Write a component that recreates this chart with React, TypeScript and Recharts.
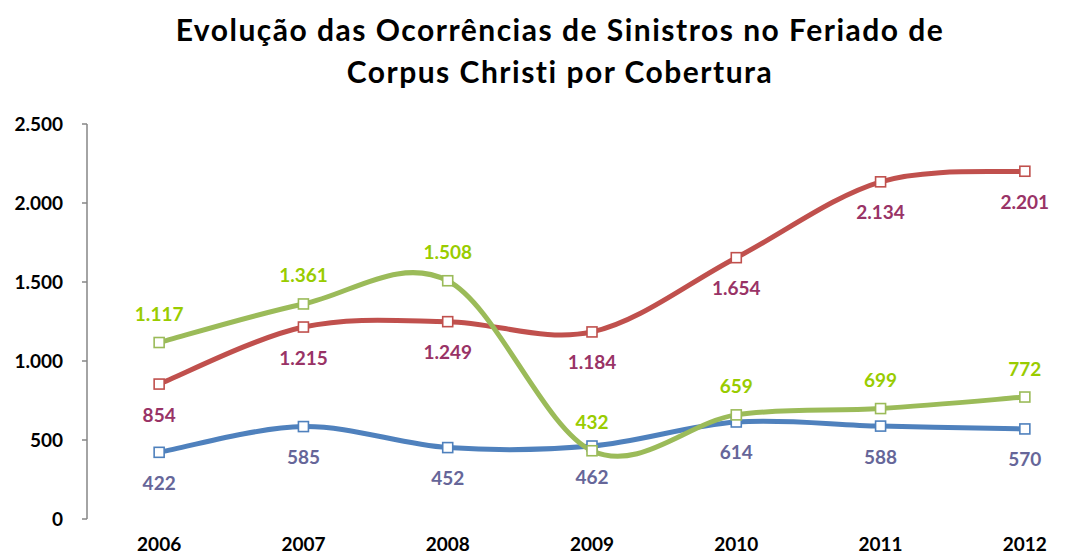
import React from 'react';
import { LineChart, Line, XAxis, YAxis, LabelList } from 'recharts';

const years = ['2006', '2007', '2008', '2009', '2010', '2011', '2012'];
const redValues = [854, 1215, 1249, 1184, 1654, 2134, 2201];
const greenValues = [1117, 1361, 1508, 432, 659, 699, 772];
const blueValues = [422, 585, 452, 462, 614, 588, 570];
const yTicks = [0, 500, 1000, 1500, 2000, 2500];

const data = years.map((year, i) => ({
  x: i,
  year,
  red: redValues[i],
  green: greenValues[i],
  blue: blueValues[i],
}));

const FONT = 'Lato, "Noto Sans", sans-serif';
const AXIS = '#868686';

// smoothed line like the spreadsheet one (catmull-rom through the points)
const smoothCurve = (context: any) => {
  let pts: number[][] = [];
  return {
    areaStart() {},
    areaEnd() {},
    lineStart() {
      pts = [];
    },
    lineEnd() {
      if (!pts.length) return;
      context.moveTo(pts[0][0], pts[0][1]);
      for (let i = 0; i < pts.length - 1; i++) {
        const p0 = pts[Math.max(i - 1, 0)];
        const p1 = pts[i];
        const p2 = pts[i + 1];
        const p3 = pts[Math.min(i + 2, pts.length - 1)];
        context.bezierCurveTo(
          p1[0] + (p2[0] - p0[0]) / 6,
          p1[1] + (p2[1] - p0[1]) / 6,
          p2[0] - (p3[0] - p1[0]) / 6,
          p2[1] - (p3[1] - p1[1]) / 6,
          p2[0],
          p2[1]
        );
      }
    },
    point(x: number, y: number) {
      pts.push([+x, +y]);
    },
  };
};

const squareDot = (color: string) => (props: any) => {
  const { cx, cy, index } = props;
  return (
    <rect key={`d-${color}-${index}`} x={cx - 5} y={cy - 5} width={10} height={10}
      fill="#fff" stroke={color} strokeWidth={1.6} />
  );
};

const fmt = (v: number) => v.toLocaleString('de-DE');

const labelContent = (color: string, dy: number) => (props: any) => {
  const { x, y, value } = props;
  return (
    <text x={x} y={y + dy} fill={color} textAnchor="middle" dominantBaseline="central"
      fontFamily={FONT} fontWeight={700} fontSize={19}>
      {fmt(value)}
    </text>
  );
};

const tickStyle = { fill: '#000', fontFamily: FONT, fontWeight: 700, fontSize: 19 };

export default function App() {
  return (
    <div style={{ position: 'relative', width: 1087, height: 559, overflow: 'hidden', margin: -8, background: '#fff' }}>
      <div style={{ position: 'absolute', left: 0, top: 8, width: 1120, textAlign: 'center', fontFamily: FONT, fontWeight: 700, fontSize: 30, letterSpacing: 1.5, lineHeight: '42px', color: '#000' }}>
        Evolução das Ocorrências de Sinistros no Feriado de<br />Corpus Christi por Cobertura
      </div>
      <div style={{ position: 'absolute', left: 0, top: 0 }}>
        <LineChart width={1100} height={559} data={data} margin={{ top: 124, right: 3, bottom: 0, left: 0 }}>
          <XAxis xAxisId="b" dataKey="x" type="number" domain={[-0.5, 6.5]}
            ticks={[-0.5, 0.5, 1.5, 2.5, 3.5, 4.5, 5.5, 6.5]} height={0} tick={false}
            tickSize={7} stroke={AXIS} strokeWidth={1.5} />
          <XAxis dataKey="x" type="number" domain={[-0.5, 6.5]} ticks={[0, 1, 2, 3, 4, 5, 6]}
            height={40} axisLine={false} tickLine={false} tickSize={0} tickMargin={19}
            tickFormatter={(v: number) => years[v]} tick={tickStyle} />
          <YAxis domain={[0, 2500]} ticks={yTicks} width={87} tickSize={5} tickMargin={19}
            tickFormatter={fmt} stroke={AXIS} strokeWidth={1.5} tick={tickStyle} />
          <Line dataKey="blue" type={smoothCurve as any} stroke="#4F81BD" strokeWidth={5}
            dot={squareDot('#4F81BD')} activeDot={false} isAnimationActive={false}>
            <LabelList dataKey="blue" content={labelContent('#666699', 30)} />
          </Line>
          <Line dataKey="red" type={smoothCurve as any} stroke="#C0504D" strokeWidth={5}
            dot={squareDot('#C0504D')} activeDot={false} isAnimationActive={false}>
            <LabelList dataKey="red" content={labelContent('#993366', 30)} />
          </Line>
          <Line dataKey="green" type={smoothCurve as any} stroke="#9BBB59" strokeWidth={5}
            dot={squareDot('#9BBB59')} activeDot={false} isAnimationActive={false}>
            <LabelList dataKey="green" content={labelContent('#99CC00', -29)} />
          </Line>
        </LineChart>
      </div>
    </div>
  );
}
